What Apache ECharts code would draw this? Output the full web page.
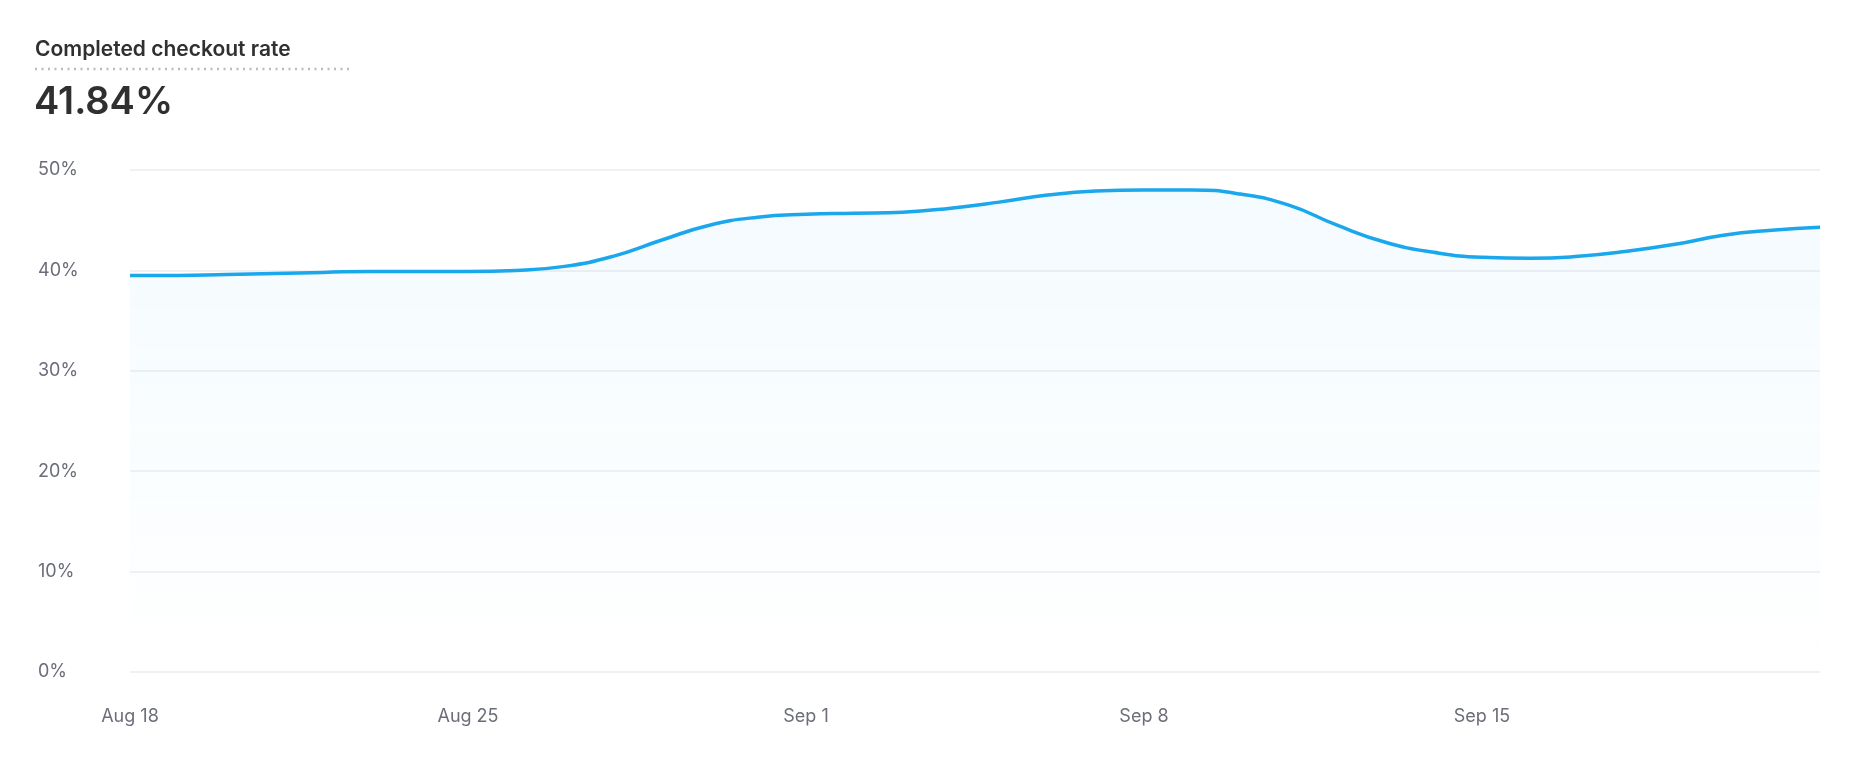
<!DOCTYPE html>
<html><head><meta charset="utf-8">
<script src="https://cdn.jsdelivr.net/npm/echarts@6/dist/echarts.min.js"></script>
<style>html,body{margin:0;padding:0;background:#fff}#c{width:1856px;height:762px}</style>
</head><body><div id="c"></div>
<script>
const categories = ["Aug 18","Aug 19","Aug 20","Aug 21","Aug 22","Aug 23","Aug 24","Aug 25","Aug 26","Aug 27","Aug 28","Aug 29","Aug 30","Aug 31","Sep 1","Sep 2","Sep 3","Sep 4","Sep 5","Sep 6","Sep 7","Sep 8","Sep 9","Sep 10","Sep 11","Sep 12","Sep 13","Sep 14","Sep 15","Sep 16","Sep 17","Sep 18","Sep 19","Sep 20","Sep 21","Sep 22"];
const rateValues = [39.5,39.5,39.6,39.7,39.8,39.9,39.9,39.9,40.0,40.4,41.4,43.0,44.5,45.3,45.6,45.7,45.8,46.2,46.8,47.5,47.9,48.0,48.0,47.6,46.5,44.5,42.8,41.8,41.3,41.2,41.4,41.9,42.6,43.5,44.0,44.3];
const titleText = "Completed checkout rate";
const headlineValue = "41.84%";
const yTicks = [0,10,20,30,40,50];

const chart = echarts.init(document.getElementById('c'));
chart.setOption({
  animation:false,
  textStyle:{fontFamily:'Inter'},
  graphic:[
    {type:'text',left:35,top:39,style:{text:titleText,fontFamily:'Inter',fontSize:21,fontWeight:600,fill:'#303030'}},
    {type:'line',shape:{x1:35,y1:69,x2:351,y2:69},style:{stroke:'#b8bcc4',lineWidth:2.5,lineDash:[2,4.5]}},
    {type:'text',left:34,top:84,style:{text:headlineValue,fontFamily:'Inter',fontSize:38,fontWeight:600,fill:'#303030'}}
  ],
  grid:{left:130,right:36,top:170,bottom:90},
  xAxis:{type:'category',data:categories,boundaryGap:false,
    axisLine:{show:false},axisTick:{show:false},
    axisLabel:{interval:6,color:'#6b6e78',fontSize:18,margin:36,fontFamily:'Inter',showMaxLabel:false}},
  yAxis:{type:'value',min:0,max:50,interval:10,
    axisLabel:{formatter:v=>v+'%',color:'#6b6e78',fontSize:18,margin:92,align:'left',fontFamily:'Inter'},
    splitLine:{lineStyle:{color:'#ececef',width:1.5}}},
  series:[{type:'line',data:rateValues,smooth:0.5,symbol:'none',
    lineStyle:{color:'#1aa7ec',width:3.5},
    areaStyle:{color:new echarts.graphic.LinearGradient(0,0,0,1,[{offset:0,color:'rgba(26,167,236,0.07)'},{offset:1,color:'rgba(26,167,236,0)'}])}}]
});
</script></body></html>
